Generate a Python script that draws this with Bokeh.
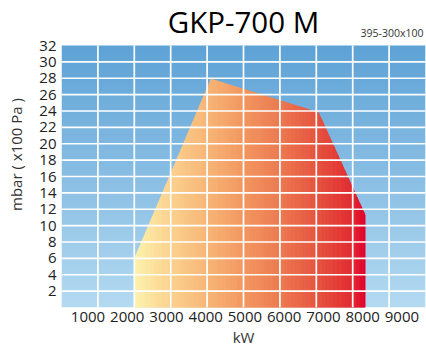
import numpy as np
from bokeh.plotting import figure
from bokeh.models import FixedTicker, Label, Range1d
from bokeh.embed import file_html
from bokeh.resources import INLINE

# ---------------- data ----------------
title_text = "GKP-700 M"
subtitle_text = "395-300x100"
x_label = "kW"
y_label = "mbar ( x100 Pa )"

x_tick_values = [1000, 2000, 3000, 4000, 5000, 6000, 7000, 8000, 9000]
y_tick_values = [2, 4, 6, 8, 10, 12, 14, 16, 18, 20, 22, 24, 26, 28, 30, 32]
x_grid_values = [1000, 2000, 3000, 4000, 5000, 6000, 7000, 8000, 9000]
y_grid_values = [2, 4, 6, 8, 10, 12, 14, 16, 18, 20, 22, 24, 26, 28, 30]

# working field outline (kW, mbar)
field_kw = [2020, 2020, 4110, 7060, 8340, 8340]
field_mbar = [0.0, 6.1, 27.9, 23.8, 11.3, 0.0]

x_max = 10000
y_max = 32

# ---------------- layout / styles ----------------
FONT = "Open Sans"
W, H_FIG = 426, 356
BORDER_L, BORDER_R, BORDER_T, BORDER_B = 61, 1, 1, 49
HEADER_PX = 44          # white band above the chart area that holds the titles
frame_h = H_FIG - BORDER_T - BORDER_B
y_view_top = y_max * frame_h / (frame_h - HEADER_PX)

bg_top = (94, 162, 214)
bg_bottom = (180, 218, 241)
fill_stops_kw = [2020, 3000, 4000, 5000, 6000, 7000, 8000, 8340]
fill_stops_rgb = [(255, 243, 173), (253, 210, 142), (249, 182, 118), (244, 151, 95),
                  (238, 122, 80), (232, 84, 62), (226, 42, 48), (227, 0, 43)]

p = figure(width=W, height=H_FIG, output_backend="svg", toolbar_location=None, title=None,
           x_range=Range1d(0, x_max), y_range=Range1d(0, y_view_top),
           min_border_left=BORDER_L, min_border_right=BORDER_R,
           min_border_top=BORDER_T, min_border_bottom=BORDER_B)
p.outline_line_color = None
p.background_fill_color = "white"
p.border_fill_color = "white"
p.grid.visible = False

# background vertical gradient of the chart area
NPIX = frame_h - HEADER_PX
t = np.linspace(0, 1, NPIX)
img = np.zeros((NPIX, 1), dtype=np.uint32)
view = img.view(dtype=np.uint8).reshape((NPIX, 1, 4))
for c in range(3):
    view[:, 0, c] = np.round(bg_bottom[c] + (bg_top[c] - bg_bottom[c]) * t).astype(np.uint8)
view[:, 0, 3] = 255
p.image_rgba(image=[img], x=0, y=0, dw=x_max, dh=y_max)


# working field with horizontal gradient, drawn as thin vertical slices
def clip(poly, a, keep_ge):
    out = []
    n = len(poly)
    for i in range(n):
        P = poly[i]
        Q = poly[(i + 1) % n]
        pin = P[0] >= a if keep_ge else P[0] <= a
        qin = Q[0] >= a if keep_ge else Q[0] <= a
        if pin:
            out.append(P)
        if pin != qin:
            tt = (a - P[0]) / (Q[0] - P[0])
            out.append((a, P[1] + tt * (Q[1] - P[1])))
    return out


poly = list(zip(field_kw, field_mbar))
x0, x1 = min(field_kw), max(field_kw)
n_slices = 170
edges = np.linspace(x0, x1, n_slices + 1)
xs, ys, cols = [], [], []
for i in range(n_slices):
    a, b = edges[i], edges[i + 1]
    piece = clip(clip(poly, a, True), b, False)
    if len(piece) < 3:
        continue
    xs.append([q[0] for q in piece])
    ys.append([q[1] for q in piece])
    xm = 0.5 * (a + b)
    rgb = [int(round(np.interp(xm, fill_stops_kw, [s[c] for s in fill_stops_rgb]))) for c in range(3)]
    cols.append("#%02x%02x%02x" % tuple(rgb))
p.patches(xs, ys, fill_color=cols, line_color=cols, line_width=0.8)

# white grid drawn over the field, limited to the chart area
p.segment(x0=x_grid_values, y0=[0] * len(x_grid_values), x1=x_grid_values,
          y1=[y_max] * len(x_grid_values), line_color="white", line_width=1.7)
p.segment(x0=[0] * len(y_grid_values), y0=y_grid_values, x1=[x_max] * len(y_grid_values),
          y1=y_grid_values, line_color="white", line_width=1.7)

# axes (x labels are spread a little wider than the grid, as in the original)
x_tick_pos = [int(round(5040 + (v - 5000) * 1.078)) for v in x_tick_values]
p.xaxis.ticker = FixedTicker(ticks=x_tick_pos)
p.xaxis.major_label_overrides = {pos: str(v) for pos, v in zip(x_tick_pos, x_tick_values)}
p.yaxis.ticker = FixedTicker(ticks=y_tick_values)
p.yaxis.bounds = (0, y_max)
for ax in (p.xaxis, p.yaxis):
    ax.axis_line_color = None
    ax.major_tick_line_color = None
    ax.minor_tick_line_color = None
    ax.major_tick_out = 0
    ax.major_tick_in = 0
    ax.major_label_text_font = FONT
    ax.major_label_text_font_size = "15px"
    ax.major_label_text_color = "#222222"
    ax.axis_label_text_font = FONT
    ax.axis_label_text_font_size = "15px"
    ax.axis_label_text_font_style = "normal"
    ax.axis_label_text_color = "#333333"
p.xaxis.axis_label = x_label
p.yaxis.axis_label = y_label
p.xaxis.major_label_standoff = 4
p.yaxis.major_label_standoff = 5
p.xaxis.axis_label_standoff = 2
p.yaxis.axis_label_standoff = 10

# title and subtitle in the white header band (screen px from the frame's lower left)
chart_h = frame_h - HEADER_PX
p.add_layout(Label(x=182, y=chart_h + 24, x_units="screen", y_units="screen", text=title_text,
                   text_font=FONT, text_font_size="29.5px", text_align="center",
                   text_baseline="alphabetic", text_color="black"))
p.add_layout(Label(x=362, y=chart_h + 13, x_units="screen", y_units="screen", text=subtitle_text,
                   text_font=FONT, text_font_size="10.5px", text_align="right",
                   text_baseline="alphabetic", text_color="#333333"))

open("out.html", "w").write(file_html(p, INLINE))
